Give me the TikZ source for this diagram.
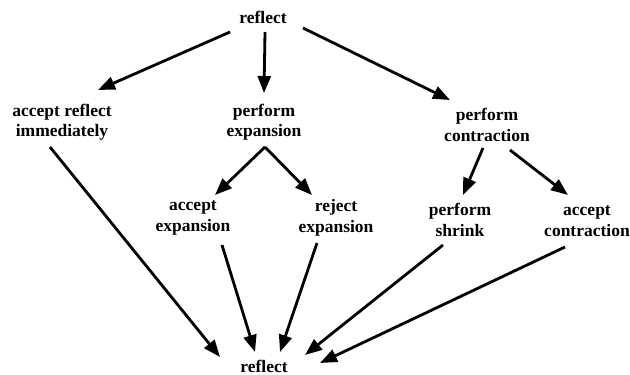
\documentclass[tikz,border=0pt]{standalone}
\usepackage{fontspec}
\setmainfont{Liberation Serif}
\usetikzlibrary{arrows.meta}
\tikzset{
  lbl/.style={inner sep=0pt, align=center, font=\bfseries\fontsize{17.5}{20.5}\selectfont},
  arr/.style={line width=2.8pt, -{Triangle[length=17pt,width=13pt]}}
}
\begin{document}
\begin{tikzpicture}[x=1pt,y=-1pt]
\useasboundingbox[fill=white] (0,0) rectangle (630,375);
\node[lbl] (r0) at (263,17) {reflect};
\node[lbl] (ar) at (62,122) {accept reflect\\immediately};
\node[lbl] (pe) at (264,122) {perform\\expansion};
\node[lbl] (pc) at (487,125) {perform\\contraction};
\node[lbl] (ae) at (193,218) {accept\\expansion};
\node[lbl] (re) at (336,218) {reject\\expansion};
\node[lbl] (ps) at (460,220) {perform\\shrink};
\node[lbl] (ac) at (587,221) {accept\\contraction};
\node[lbl] (r1) at (264,366) {reflect};
\draw[arr] ([shift={(-33,15)}]r0.center) -- ([shift={(36,-32)}]ar.center);
\draw[arr] ([shift={(2,15)}]r0.center) -- ([shift={(0,-29)}]pe.center);
\draw[arr] ([shift={(40,11)}]r0.center) -- ([shift={(-37,-25)}]pc.center);
\draw[arr] ([shift={(1,25)}]pe.center) -- ([shift={(22,-23)}]ae.center);
\draw[arr] ([shift={(1,25)}]pe.center) -- ([shift={(-24,-23)}]re.center);
\draw[arr] ([shift={(-4,23)}]pc.center) -- ([shift={(3,-25)}]ps.center);
\draw[arr] ([shift={(23,25)}]pc.center) -- ([shift={(-19,-26)}]ac.center);
\draw[arr] ([shift={(-12,25)}]ar.center) -- ([shift={(-44,-9)}]r1.center);
\draw[arr] ([shift={(29,27)}]ae.center) -- ([shift={(-9,-14)}]r1.center);
\draw[arr] ([shift={(-19,25)}]re.center) -- ([shift={(16,-14)}]r1.center);
\draw[arr] ([shift={(-17,25)}]ps.center) -- ([shift={(41,-11)}]r1.center);
\draw[arr] ([shift={(-22,26)}]ac.center) -- ([shift={(56,-3)}]r1.center);
\end{tikzpicture}
\end{document}
